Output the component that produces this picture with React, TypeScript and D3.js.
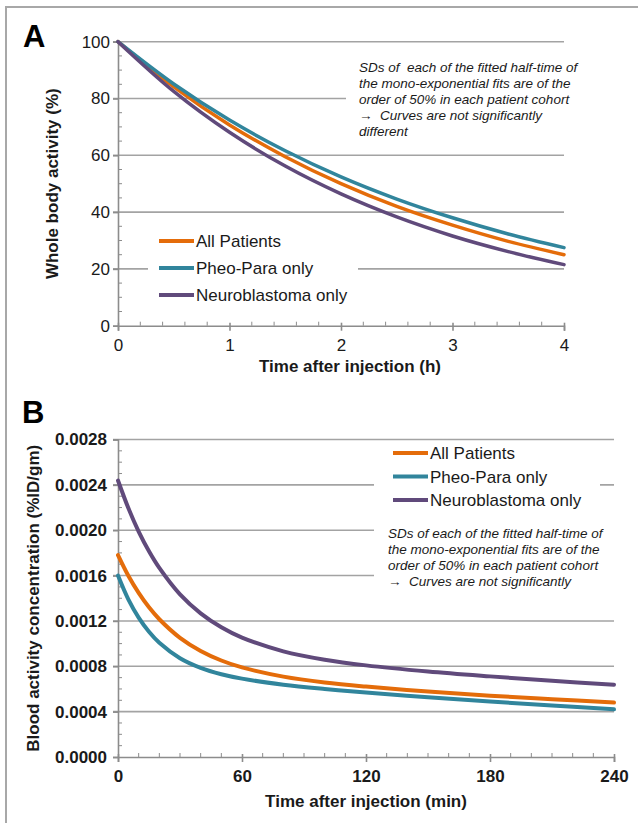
import React, { useEffect, useRef } from 'react';
import * as d3 from 'd3';

// Panel A: whole body activity (%) vs time (h)
const hoursA = [0, 0.5, 1, 1.5, 2, 2.5, 3, 3.5, 4];
const allPatientsA = [100, 84.1, 70.7, 59.5, 50.0, 42.0, 35.4, 29.7, 25.0];
const pheoParaA = [100, 85.1, 72.4, 61.6, 52.4, 44.6, 38.0, 32.3, 27.5];
const neuroA = [100, 82.5, 68.1, 56.2, 46.4, 38.3, 31.6, 26.1, 21.5];
const yTicksA = [0, 20, 40, 60, 80, 100];
const xTicksA = [0, 1, 2, 3, 4];

// Panel B: blood activity concentration (%ID/gm) vs time (min)
const minutesB = [0, 5, 10, 15, 20, 30, 40, 50, 60, 80, 100, 120, 150, 180, 210, 240];
const allPatientsB = [0.00178, 0.001598, 0.001447, 0.00132, 0.001215, 0.001051, 0.000935, 0.000851, 0.00079, 0.000709, 0.000657, 0.000621, 0.000578, 0.000541, 0.00051, 0.00048];
const pheoParaB = [0.0016, 0.00139, 0.001229, 0.001104, 0.001007, 0.000871, 0.000786, 0.00073, 0.000691, 0.000638, 0.0006, 0.000568, 0.000527, 0.000489, 0.000454, 0.000421];
const neuroB = [0.002438, 0.002195, 0.001988, 0.001814, 0.001667, 0.001434, 0.001267, 0.001144, 0.001053, 0.000932, 0.000858, 0.000808, 0.000754, 0.000711, 0.000672, 0.000638];
const yTicksB = [0, 0.0004, 0.0008, 0.0012, 0.0016, 0.002, 0.0024, 0.0028];
const xTicksB = [0, 60, 120, 180, 240];

const seriesNames = ['All Patients', 'Pheo-Para only', 'Neuroblastoma only'];
const colors = ['#E46C0A', '#31859C', '#604A7B'];

const noteA = [
  'SDs of  each of the fitted half-time of',
  'the mono-exponential fits are of the',
  'order of 50% in each patient cohort',
  '\u2192  Curves are not significantly',
  'different',
];
const noteB = [
  'SDs of each of the fitted half-time of',
  'the mono-exponential fits are of the',
  'order of 50% in each patient cohort',
  '\u2192  Curves are not significantly',
];

const FONT = '"Liberation Sans", Arial, sans-serif';
const GRID = '#a3a3a3';
const AXIS = '#8c8c8c';
const INK = '#1a1a1a';

function drawPanel(g, p) {
  const { x, y } = p;
  const [x0, x1] = x.range();
  const [yb, yt] = y.range();

  // gridlines (with little stub left of the axis)
  g.append('g')
    .selectAll('line')
    .data(p.yTicks.filter(d => d !== 0))
    .enter()
    .append('line')
    .attr('x1', x0 - 5)
    .attr('x2', x1)
    .attr('y1', d => y(d))
    .attr('y2', d => y(d))
    .attr('stroke', GRID)
    .attr('stroke-width', 1.6);

  // minor ticks
  g.append('g')
    .selectAll('line')
    .data(p.yMinor)
    .enter()
    .append('line')
    .attr('x1', x0)
    .attr('x2', x0 + 4)
    .attr('y1', d => y(d))
    .attr('y2', d => y(d))
    .attr('stroke', AXIS)
    .attr('stroke-width', 1);
  g.append('g')
    .selectAll('line')
    .data(p.xMinor)
    .enter()
    .append('line')
    .attr('x1', d => x(d))
    .attr('x2', d => x(d))
    .attr('y1', yb)
    .attr('y2', yb - 4)
    .attr('stroke', AXIS)
    .attr('stroke-width', 1);

  // axes
  const yAxis = g.append('g')
    .attr('transform', `translate(${x0},0)`)
    .call(d3.axisLeft(y).tickValues(p.yTicks).tickSize(5).tickPadding(p.yPad).tickFormat(p.yFormat));
  const xAxis = g.append('g')
    .attr('transform', `translate(0,${yb})`)
    .call(d3.axisBottom(x).tickValues(p.xTicks).tickSize(5).tickSizeOuter(5).tickPadding(p.xPad).tickFormat(d3.format('d')));
  [yAxis, xAxis].forEach(a => {
    a.selectAll('.domain, .tick line').attr('stroke', AXIS).attr('stroke-width', 1.6);
    a.selectAll('.tick text')
      .attr('fill', INK)
      .style('font-family', FONT)
      .style('font-size', '17px')
      .style('font-weight', p.tickWeight);
  });
  xAxis.selectAll('.tick line').attr('y1', -3);

  // curves
  const line = d3.line()
    .x(d => x(d[0]))
    .y(d => y(d[1]))
    .curve(d3.curveCatmullRom.alpha(0.5));
  p.series.forEach((vals, i) => {
    g.append('path')
      .datum(p.xs.map((t, j) => [t, vals[j]]))
      .attr('fill', 'none')
      .attr('stroke', colors[i])
      .attr('stroke-width', p.lineWidth)
      .attr('stroke-linecap', 'round')
      .attr('d', line);
  });

  // legend
  const lg = p.legend;
  g.append('rect')
    .attr('x', lg.box[0]).attr('y', lg.box[1])
    .attr('width', lg.box[2]).attr('height', lg.box[3])
    .attr('fill', '#fff');
  seriesNames.forEach((name, i) => {
    const cy = lg.y + i * lg.step;
    g.append('line')
      .attr('x1', lg.x).attr('x2', lg.x + 35)
      .attr('y1', cy).attr('y2', cy)
      .attr('stroke', colors[i])
      .attr('stroke-width', 4);
    g.append('text')
      .attr('x', lg.x + 37)
      .attr('y', cy + 6)
      .attr('fill', INK)
      .style('font-family', FONT)
      .style('font-size', '17px')
      .text(name);
  });

  // note
  const nt = p.note;
  g.append('rect')
    .attr('x', nt.box[0]).attr('y', nt.box[1])
    .attr('width', nt.box[2]).attr('height', nt.box[3])
    .attr('fill', '#fff');
  nt.lines.forEach((s, i) => {
    g.append('text')
      .attr('x', nt.x)
      .attr('y', nt.y + i * 16)
      .attr('fill', INK)
      .style('font-family', FONT)
      .style('font-size', '13.5px')
      .style('font-style', 'italic')
      .style('white-space', 'pre')
      .text(s);
  });

  // axis titles
  g.append('text')
    .attr('x', p.xTitle[1])
    .attr('y', p.xTitle[2])
    .attr('text-anchor', 'middle')
    .attr('fill', INK)
    .style('font-family', FONT)
    .style('font-size', '17px')
    .style('font-weight', 'bold')
    .text(p.xTitle[0]);
  g.append('text')
    .attr('transform', `translate(${p.yTitle[1]},${(yb + yt) / 2}) rotate(-90)`)
    .attr('text-anchor', 'middle')
    .attr('fill', INK)
    .style('font-family', FONT)
    .style('font-size', '17px')
    .style('font-weight', 'bold')
    .text(p.yTitle[0]);

  // panel letter
  g.append('text')
    .attr('x', p.letter[1])
    .attr('y', p.letter[2])
    .attr('fill', '#000')
    .style('font-family', FONT)
    .style('font-size', '31px')
    .style('font-weight', 'bold')
    .text(p.letter[0]);
}

export default function App() {
  const svgRef = useRef(null);

  useEffect(() => {
    const svg = d3.select(svgRef.current);
    svg.selectAll('*').remove();

    // frame
    svg.append('path')
      .attr('d', 'M6,823V7H638')
      .attr('fill', 'none')
      .attr('stroke', '#a8a8a8')
      .attr('stroke-width', 2);

    const xA = d3.scaleLinear().domain([0, 4]).range([118, 564]);
    const yA = d3.scaleLinear().domain([0, 100]).range([325.7, 41.7]);
    drawPanel(svg.append('g'), {
      x: xA, y: yA,
      xs: hoursA,
      series: [allPatientsA, pheoParaA, neuroA],
      yTicks: yTicksA, xTicks: xTicksA,
      yMinor: d3.range(0, 100, 5).filter(d => d % 20 !== 0),
      xMinor: d3.range(0, 4, 0.2).filter((d, i) => i % 5 !== 0),
      yFormat: d3.format('d'), yPad: 3, xPad: 8,
      tickWeight: 'normal', lineWidth: 3.5,
      legend: { box: [148, 228, 210, 80], x: 159, y: 241, step: 27 },
      note: { box: [346, 56, 218, 86], x: 359, y: 71.5, lines: noteA },
      xTitle: ['Time after injection (h)', 350, 372],
      yTitle: ['Whole body activity (%)', 58],
      letter: ['A', 23, 47],
    });

    const xB = d3.scaleLinear().domain([0, 240]).range([118, 614]);
    const yB = d3.scaleLinear().domain([0, 0.0028]).range([757, 439.5]);
    drawPanel(svg.append('g'), {
      x: xB, y: yB,
      xs: minutesB,
      series: [allPatientsB, pheoParaB, neuroB],
      yTicks: yTicksB, xTicks: xTicksB,
      yMinor: d3.range(1, 28).filter(d => d % 4 !== 0).map(d => d * 0.0001),
      xMinor: d3.range(10, 240, 10).filter(d => d % 60 !== 0),
      yFormat: d3.format('.4f'), yPad: 6, xPad: 8,
      tickWeight: 'bold', lineWidth: 4,
      legend: { box: [374, 443, 226, 66], x: 393, y: 453, step: 23.5 },
      note: { box: [374, 518, 241, 80], x: 388, y: 537.5, lines: noteB },
      xTitle: ['Time after injection (min)', 366, 807],
      yTitle: ['Blood activity concentration (%ID/gm)', 39],
      letter: ['B', 22, 423],
    });
  }, []);

  return (
    <svg
      ref={svgRef}
      width={638}
      height={823}
      style={{ position: 'absolute', left: 0, top: 0, background: '#fff' }}
    />
  );
}
